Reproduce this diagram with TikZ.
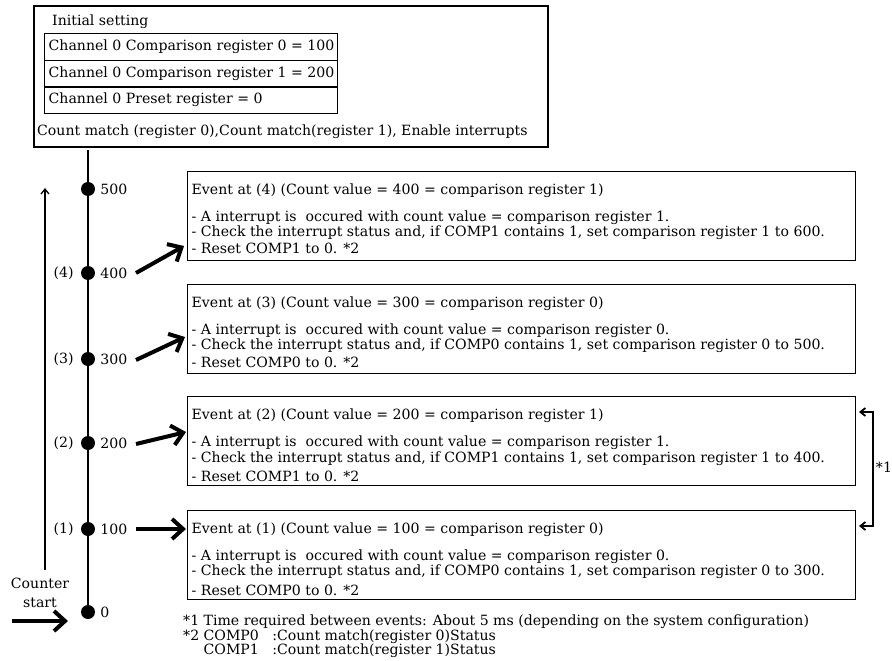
\documentclass[tikz,border=0pt]{standalone}
\usepackage{fontspec}
\setmainfont{DejaVu Serif}
\usetikzlibrary{arrows.meta, positioning}
\newcommand\boxfont{\fontsize{14.1}{15.5}\selectfont}
\newcommand\notefont{\fontsize{14.1}{11.5}\selectfont}

\tikzset{
  frame/.style={draw, line width=1.3pt, inner sep=0pt},
  regbox/.style={draw, line width=1pt, minimum width=293pt, minimum height=27pt, inner sep=0pt},
  evbox/.style={draw, line width=1pt, minimum width=668pt, minimum height=89pt, inner sep=0pt},
  evtext/.style={anchor=north west, align=left, inner sep=0pt},
  lbl/.style={inner sep=0pt},
  dot/.style={circle, fill, inner sep=0pt, minimum size=14pt},
  axis/.style={line width=2.6pt},
  bigarrow/.style={line width=4pt, -{Straight Barb[length=11pt, width=20pt]}},
  thinarrow/.style={line width=1.3pt, -{Straight Barb[length=5pt, width=8pt]}},
  gaparrow/.style={line width=1.8pt, {Straight Barb[length=5pt, width=8pt]}-{Straight Barb[length=5pt, width=8pt]}}
}

\begin{document}
\begin{tikzpicture}[x=1pt, y=-1pt, font=\boxfont]
  \useasboundingbox (0,0) rectangle (892,661);

  % --- Initial setting ---
  \node[frame, minimum width=514pt, minimum height=141pt] (init) at (291,76.5) {};
  \node[lbl, anchor=west] (initlbl) at (52,22) {Initial setting};
  \node[regbox] (reg0) at (190.5,47) {};
  \node[regbox] (reg1) at (190.5,74) {};
  \node[regbox] (reg2) at (190.5,100) {};
  \node[lbl, anchor=west] (reg0t) at ([xshift=5pt]reg0.west) {Channel 0 Comparison register 0 = 100};
  \node[lbl, anchor=west] (reg1t) at ([xshift=5pt]reg1.west) {Channel 0 Comparison register 1 = 200};
  \node[lbl, anchor=west] (reg2t) at ([xshift=5pt]reg2.west) {Channel 0 Preset register = 0};
  \node[lbl, anchor=west] (intlbl) at (37,132) {Count match (register 0),Count match(register 1), Enable interrupts};

  % --- Count axis ---
  \coordinate (axtop) at (88,150);
  \node[dot] (d500) at (88,189) {};
  \node[dot] (d400) at (88,273) {};
  \node[dot] (d300) at (88,359) {};
  \node[dot] (d200) at (88,443) {};
  \node[dot] (d100) at (88,529) {};
  \node[dot] (d0)   at (88,612) {};
  \draw[axis] (axtop) -- (d0.center);
  \node[lbl, right=5pt of d500] (v500) {500};
  \node[lbl, right=5pt of d400] (v400) {400};
  \node[lbl, right=5pt of d300] (v300) {300};
  \node[lbl, right=5pt of d200] (v200) {200};
  \node[lbl, right=5pt of d100] (v100) {100};
  \node[lbl, right=5pt of d0]   (v0)   {0};
  \node[lbl, left=7pt of d400] (n4) {(4)};
  \node[lbl, left=7pt of d300] (n3) {(3)};
  \node[lbl, left=7pt of d200] (n2) {(2)};
  \node[lbl, left=7pt of d100] (n1) {(1)};

  % counter start
  \coordinate (cbot) at (45,570);
  \coordinate (ctop) at (45,188);
  \draw[thinarrow] (cbot) -- (ctop);
  \node[lbl, align=center, font=\fontsize{14.1}{19}\selectfont] (cstart) at (40,593) {Counter\\start};
  \coordinate (sa) at (12,621);
  \coordinate (sb) at (68,621);
  \draw[bigarrow] (sa) -- (sb);

  % --- Events ---
  \node[evbox] (ev4) at (521,215.5) {};
  \node[evtext] (ev4t) at ([xshift=5pt, yshift=-13pt]ev4.north west) {Event at (4) (Count value = 400 = comparison register 1)\\[11.5pt]
    - A interrupt is\ \ occured with count value = comparison register 1.\\
    - Check the interrupt status and, if COMP1 contains 1, set comparison register 1 to 600.\\[1pt]
    - Reset COMP1 to 0. *2};
  \node[evbox] (ev3) at (521,328.5) {};
  \node[evtext] (ev3t) at ([xshift=5pt, yshift=-13pt]ev3.north west) {Event at (3) (Count value = 300 = comparison register 0)\\[11.5pt]
    - A interrupt is\ \ occured with count value = comparison register 0.\\
    - Check the interrupt status and, if COMP0 contains 1, set comparison register 0 to 500.\\[2pt]
    - Reset COMP0 to 0. *2};
  \node[evbox] (ev2) at (521,441) {};
  \node[evtext] (ev2t) at ([xshift=5pt, yshift=-13pt]ev2.north west) {Event at (2) (Count value = 200 = comparison register 1)\\[11.5pt]
    - A interrupt is\ \ occured with count value = comparison register 1.\\
    - Check the interrupt status and, if COMP1 contains 1, set comparison register 1 to 400.\\[4pt]
    - Reset COMP1 to 0. *2};
  \node[evbox] (ev1) at (521,554.5) {};
  \node[evtext] (ev1t) at ([xshift=5pt, yshift=-13pt]ev1.north west) {Event at (1) (Count value = 100 = comparison register 0)\\[11.5pt]
    - A interrupt is\ \ occured with count value = comparison register 0.\\
    - Check the interrupt status and, if COMP0 contains 1, set comparison register 0 to 300.\\[4pt]
    - Reset COMP0 to 0. *2};

  % arrows to the events
  \coordinate (a4s) at (136,273); \coordinate (a4e) at (184,246);
  \coordinate (a3s) at (136,360); \coordinate (a3e) at (185,337);
  \coordinate (a2s) at (136,444); \coordinate (a2e) at (186,432);
  \coordinate (a1s) at (136,529); \coordinate (a1e) at (186,529);
  \draw[bigarrow] (a4s) -- (a4e);
  \draw[bigarrow] (a3s) -- (a3e);
  \draw[bigarrow] (a2s) -- (a2e);
  \draw[bigarrow] (a1s) -- (a1e);

  % *1 time between events
  \coordinate (g2) at (859,412);
  \coordinate (g1) at (859,526);
  \draw[gaparrow] (g2) -- ++(14,0) |- (g1);
  \node[lbl] (gaplbl) at (884,467) {*1};

  % notes
  \node[evtext, font=\notefont] (notes) at (183,615) {\begin{tabular}{@{}l@{\ }l@{\ \ \ }l@{}}
    \multicolumn{3}{@{}l@{}}{*1 Time required between events: About 5 ms (depending on the system configuration)}\\
    {*}2 & COMP0 & :Count match(register 0)Status\\
       & COMP1 & :Count match(register 1)Status
  \end{tabular}};
\end{tikzpicture}
\end{document}
